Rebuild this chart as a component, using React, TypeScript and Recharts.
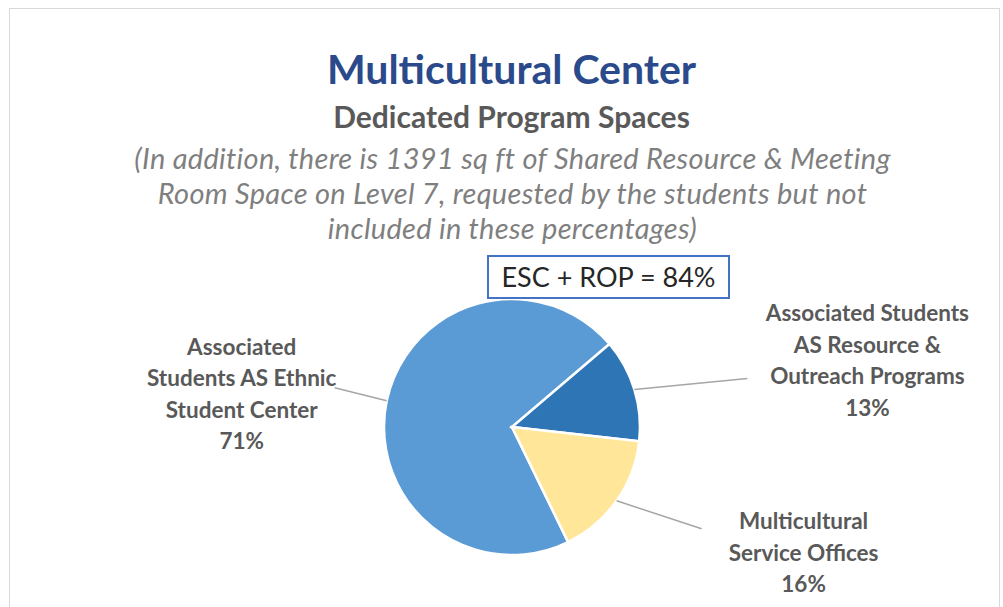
import { Pie, PieChart, Cell } from "recharts";

const CATEGORIES = [
  ["Associated", "Students AS Ethnic", "Student Center"],
  ["Associated Students", "AS Resource &", "Outreach Programs"],
  ["Multicultural", "Service Offices"],
];
const SHARES = [71, 13, 16];
const COLORS = ["#5B9BD5", "#2E75B6", "#FFE699"];

const TITLE = "Multicultural Center";
const SUBTITLE = "Dedicated Program Spaces";
const NOTE_LINES = [
  "(In addition, there is 1391 sq ft of Shared Resource & Meeting",
  "Room Space on Level 7, requested by the students but not",
  "included in these percentages)",
];
const CALLOUT = "ESC + ROP = 84%";

const data = SHARES.map((value, i) => ({ name: CATEGORIES[i].join(" "), value }));

// where each leader line ends and where its text block is centred (relative to the line start)
const LABEL_LAYOUT = [
  { elbow: [-52, -13], text: [-145, -8] },
  { elbow: [113, -11], text: [233, -30] },
  { elbow: [85, 28], text: [187, 51] },
];

const FONT = "Lato, 'Open Sans', sans-serif";
const RAD = Math.PI / 180;

function renderLabel(props: any) {
  const { cx, cy, midAngle, outerRadius, index } = props;
  const sx = cx + outerRadius * Math.cos(-midAngle * RAD);
  const sy = cy + outerRadius * Math.sin(-midAngle * RAD);
  const lay = LABEL_LAYOUT[index];
  const ex = sx + lay.elbow[0];
  const ey = sy + lay.elbow[1];
  const tx = sx + lay.text[0];
  const ty = sy + lay.text[1];
  const lines = [...CATEGORIES[index], `${SHARES[index]}%`];
  const lh = 31.5;
  const top = ty - ((lines.length - 1) * lh) / 2;
  return (
    <g key={`lbl-${index}`}>
      <line x1={sx} y1={sy} x2={ex} y2={ey} stroke="#a6a6a6" strokeWidth={1.5} />
      <text
        x={tx}
        y={top}
        textAnchor="middle"
        dominantBaseline="central"
        fill="#595959"
        fontFamily={FONT}
        fontWeight={700}
        fontSize={22.5}
      >
        {lines.map((l, i) => (
          <tspan key={i} x={tx} y={top + i * lh}>
            {l}
          </tspan>
        ))}
      </text>
    </g>
  );
}

export default function App() {
  return (
    <div
      style={{
        position: "absolute",
        left: 0,
        top: 0,
        width: 1003,
        height: 607,
        background: "#fff",
        overflow: "hidden",
        fontFamily: FONT,
      }}
    >
      <div
        style={{
          position: "absolute",
          left: 9,
          top: 8,
          width: 989,
          height: 640,
          border: "1px solid #d9d9d9",
        }}
      />
      <div style={{ position: "absolute", left: 0, width: 1023, top: 44, textAlign: "center", color: "#2B4A8B", fontWeight: 700, fontSize: 41, lineHeight: "50px" }}>
        {TITLE}
      </div>
      <div style={{ position: "absolute", left: 0, width: 1023, top: 98, textAlign: "center", color: "#595959", fontWeight: 700, fontSize: 30, lineHeight: "36px" }}>
        {SUBTITLE}
      </div>
      {NOTE_LINES.map((t, i) => (
        <div
          key={i}
          style={{ position: "absolute", left: 0, width: 1025, top: 140 + i * 35, textAlign: "center", color: "#7f7f7f", fontStyle: "italic", fontSize: 29, lineHeight: "36px", letterSpacing: 0.3 }}
        >
          {t}
        </div>
      ))}
      <div style={{ position: "absolute", left: 0, top: 0 }}>
        <PieChart width={1003} height={607} margin={{ top: 0, right: 0, bottom: 0, left: 0 }}>
          <Pie
            data={data}
            dataKey="value"
            nameKey="name"
            cx={512}
            cy={427}
            outerRadius={128}
            startAngle={-64}
            endAngle={-424}
            stroke="#ffffff"
            strokeWidth={2.5}
            label={renderLabel}
            labelLine={false}
            isAnimationActive={false}
          >
            {data.map((d, i) => (
              <Cell key={d.name} fill={COLORS[i]} />
            ))}
          </Pie>
        </PieChart>
      </div>
      <div
        style={{
          position: "absolute",
          left: 487,
          top: 255,
          width: 243,
          height: 44,
          border: "2px solid #4472C4",
          background: "#fff",
          boxSizing: "border-box",
          textAlign: "center",
          lineHeight: "40px",
          fontSize: 27,
          color: "#262626",
        }}
      >
        {CALLOUT}
      </div>
    </div>
  );
}
